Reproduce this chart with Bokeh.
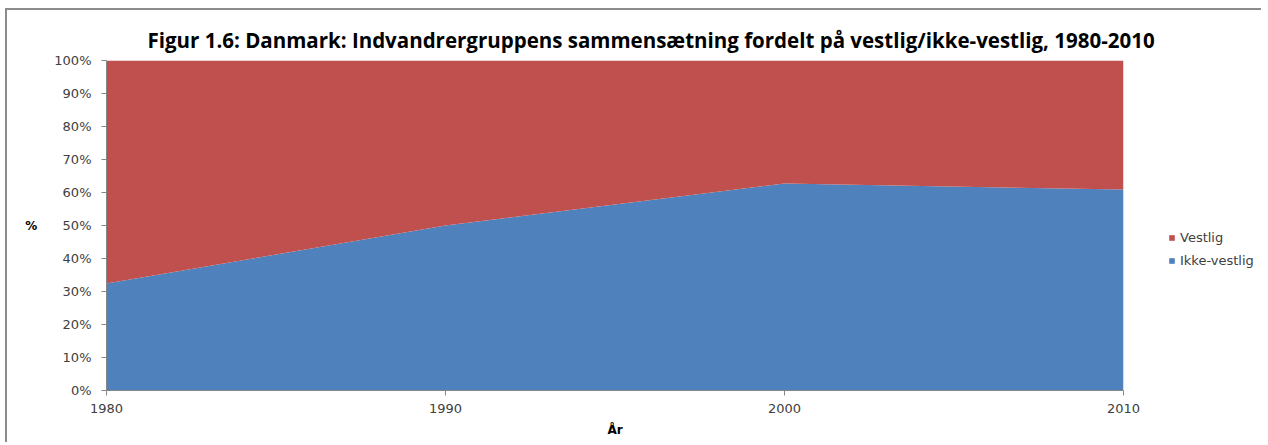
from bokeh.plotting import figure
from bokeh.layouts import row
from bokeh.models import (ColumnDataSource, FixedTicker, SingleIntervalTicker,
                          NumeralTickFormatter, Legend, LegendItem, Range1d, Title)
from bokeh.embed import file_html
from bokeh.resources import INLINE

years = [1980, 1990, 2000, 2010]
ikke_vestlig = [0.324, 0.50, 0.627, 0.609]
vestlig = [round(1 - v, 3) for v in ikke_vestlig]
series = ["Ikke-vestlig", "Vestlig"]
legend_labels = ["Vestlig", "Ikke-vestlig"]
colors = ["#4F81BD", "#C0504D"]

src = ColumnDataSource(dict(year=years, **{"Ikke-vestlig": ikke_vestlig, "Vestlig": vestlig}))

H = 432
p = figure(width=1160, height=H, output_backend="svg", toolbar_location=None,
           x_range=Range1d(1980, 2010), y_range=Range1d(0, 1),
           min_border_left=99, min_border_right=44, min_border_top=50,
           min_border_bottom=52, background_fill_color="white",
           border_fill_color="white")

rs = p.varea_stack(stackers=series, x="year", color=colors, source=src)

p.title = Title(text="Figur 1.6: Danmark: Indvandrergruppens sammensætning fordelt på vestlig/ikke-vestlig, 1980-2010",
                align="left", offset=41, text_font="Open Sans", text_font_size="20.5px",
                text_font_style="bold", text_color="black", standoff=14)

p.xgrid.visible = False
p.ygrid.visible = False
p.outline_line_color = None

p.xaxis.ticker = FixedTicker(ticks=years)
p.yaxis.ticker = SingleIntervalTicker(interval=0.1)
p.yaxis.formatter = NumeralTickFormatter(format="0%")
for ax in (p.xaxis, p.yaxis):
    ax.axis_line_color = "#868686"
    ax.major_tick_line_color = "#868686"
    ax.minor_tick_line_color = None
    ax.major_tick_in = 0
    ax.major_tick_out = 5
    ax.major_label_text_font = "DejaVu Sans"
    ax.major_label_text_font_size = "13px"
    ax.major_label_text_color = "#404040"
    ax.axis_label_text_font = "DejaVu Sans"
    ax.axis_label_text_font_size = "12px"
    ax.axis_label_text_font_style = "bold"
    ax.axis_label_text_color = "black"

p.xaxis.axis_label = "År"
p.xaxis.major_label_standoff = 8
p.xaxis.axis_label_standoff = 7
p.yaxis.axis_label = "%"
p.yaxis.axis_label_orientation = "horizontal"
p.yaxis.major_label_standoff = 10
p.yaxis.axis_label_standoff = 14

# legend panel to the right of the plot area (swatch glyphs carry no data)
nan = float("nan")
pl = figure(width=94, height=H, output_backend="svg", toolbar_location=None,
            x_range=Range1d(0, 1), y_range=Range1d(0, 1),
            min_border=0, outline_line_color=None)
pl.axis.visible = False
pl.grid.visible = False
dummy = {lab: pl.quad(left=[nan], right=[nan], top=[nan], bottom=[nan],
                      fill_color=colors[series.index(lab)], line_color=None)
         for lab in legend_labels}
legend = Legend(items=[LegendItem(label=lab, renderers=[dummy[lab]]) for lab in legend_labels],
                location=(1, 120), border_line_color=None,
                background_fill_alpha=0, glyph_width=7, glyph_height=7,
                label_text_font="DejaVu Sans", label_text_font_size="13px",
                label_text_color="#404040", label_height=20, spacing=3,
                label_standoff=5, padding=0, margin=0)
pl.add_layout(legend, "center")

layout = row(p, pl, styles={"margin-left": "5px", "margin-top": "8px",
                            "border-top": "2px solid #8c8c8c",
                            "border-left": "2px solid #8c8c8c"})

open("out.html", "w").write(file_html(layout, INLINE))
